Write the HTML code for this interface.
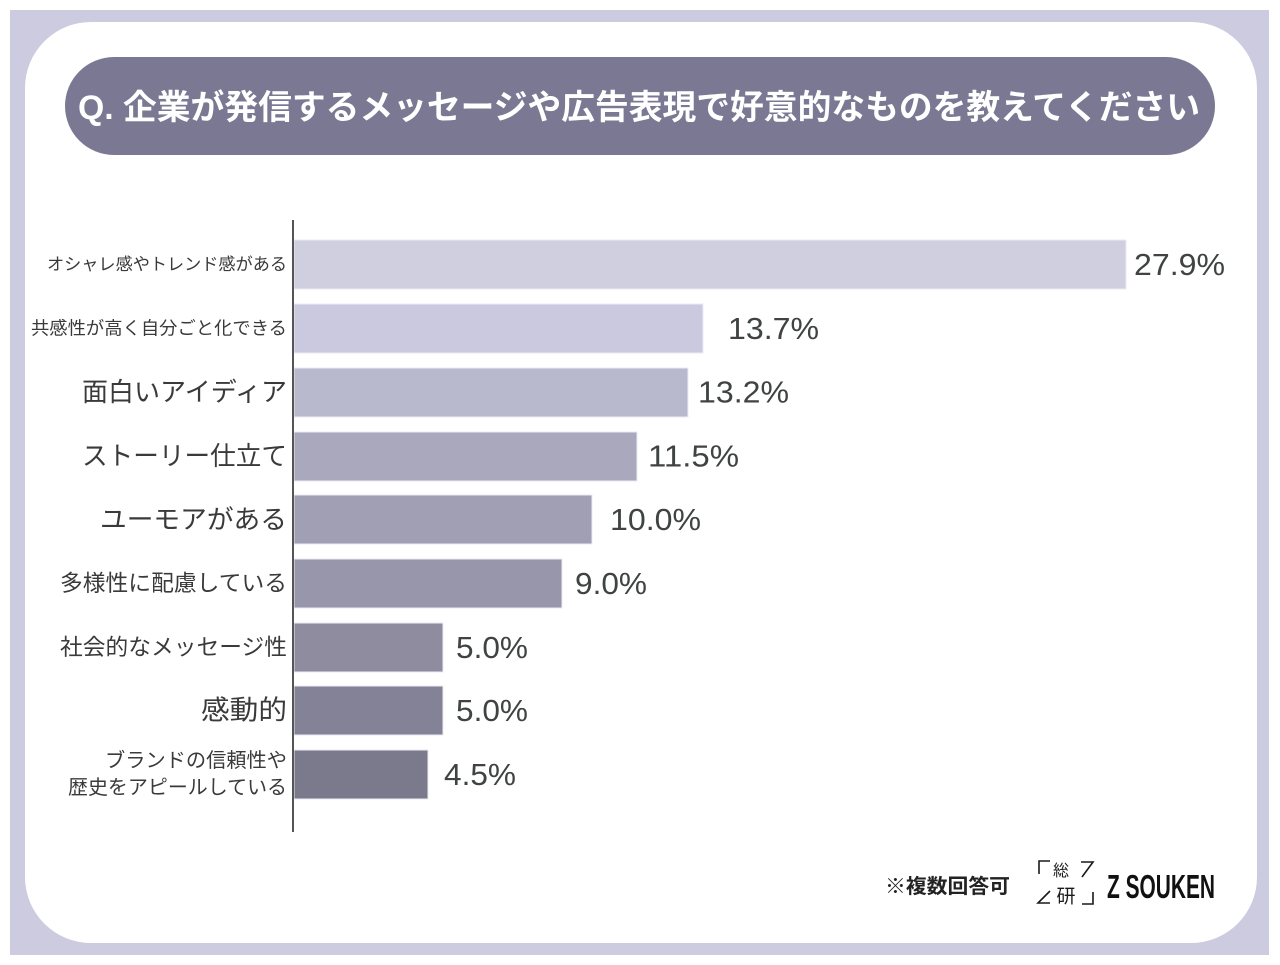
<!DOCTYPE html>
<html>
<head>
<meta charset="utf-8">
<style>
html,body{margin:0;padding:0;background:#fff;}
body{width:1280px;height:965px;overflow:hidden;}
svg{display:block;}
.lbl{font-family:"Liberation Sans","Noto Sans CJK JP",sans-serif;fill:#3a3a3a;}
.val{font-family:"Liberation Sans","Noto Sans CJK JP",sans-serif;fill:#404343;font-size:31px;}
</style>
</head>
<body>
<svg width="1280" height="965" viewBox="0 0 1280 965" xmlns="http://www.w3.org/2000/svg">
  <rect x="0" y="0" width="1280" height="965" fill="#ffffff"/>
  <rect x="10" y="10" width="1259" height="945" fill="#cdcbe0"/>
  <rect x="25" y="22" width="1232" height="921" rx="66" ry="66" fill="#ffffff"/>
  <!-- title pill -->
  <rect x="65" y="57" width="1150" height="98" rx="49" ry="49" fill="#7b7894"/>
  <text x="78" y="108" dominant-baseline="central" font-family="'Liberation Sans','Noto Sans CJK JP',sans-serif" font-weight="bold" font-size="34" fill="#ffffff" textLength="1122" lengthAdjust="spacingAndGlyphs">Q. 企業が発信するメッセージや広告表現で好意的なものを教えてください</text>

  <!-- bars -->
  <g stroke="#eceaf3" stroke-width="1">
    <rect x="294" y="240" width="832" height="49" fill="#d0cfdf"/>
    <rect x="294" y="304" width="409" height="49" fill="#cbc9df"/>
    <rect x="294" y="368" width="394" height="49" fill="#b9b9cd"/>
    <rect x="294" y="432" width="343" height="49" fill="#a9a8bd"/>
    <rect x="294" y="495" width="298" height="49" fill="#a19fb3"/>
    <rect x="294" y="559" width="268" height="49" fill="#9796ab"/>
    <rect x="294" y="623" width="149" height="49" fill="#8f8ca0"/>
    <rect x="294" y="686" width="149" height="49" fill="#848297"/>
    <rect x="294" y="750" width="134" height="49" fill="#7b7a8d"/>
  </g>
  <!-- axis -->
  <rect x="292" y="220" width="2" height="612" fill="#555555"/>

  <!-- category labels -->
  <g class="lbl" text-anchor="end">
    <text x="287" y="264.5" dominant-baseline="central" font-size="17" textLength="240" lengthAdjust="spacingAndGlyphs">オシャレ感やトレンド感がある</text>
    <text x="287" y="328.5" dominant-baseline="central" font-size="18" textLength="256" lengthAdjust="spacingAndGlyphs">共感性が高く自分ごと化できる</text>
    <text x="287" y="392" dominant-baseline="central" font-size="26" textLength="205" lengthAdjust="spacingAndGlyphs">面白いアイディア</text>
    <text x="287" y="456" dominant-baseline="central" font-size="26" textLength="205" lengthAdjust="spacingAndGlyphs">ストーリー仕立て</text>
    <text x="287" y="519.5" dominant-baseline="central" font-size="26" textLength="187" lengthAdjust="spacingAndGlyphs">ユーモアがある</text>
    <text x="287" y="583.5" dominant-baseline="central" font-size="22.5" textLength="227" lengthAdjust="spacingAndGlyphs">多様性に配慮している</text>
    <text x="287" y="647.5" dominant-baseline="central" font-size="22.5" textLength="227" lengthAdjust="spacingAndGlyphs">社会的なメッセージ性</text>
    <text x="287" y="710.5" dominant-baseline="central" font-size="27" textLength="86" lengthAdjust="spacingAndGlyphs">感動的</text>
    <text x="287" y="761" dominant-baseline="central" font-size="20" textLength="182" lengthAdjust="spacingAndGlyphs">ブランドの信頼性や</text>
    <text x="287" y="788" dominant-baseline="central" font-size="20" textLength="219" lengthAdjust="spacingAndGlyphs">歴史をアピールしている</text>
  </g>

  <!-- values -->
  <g class="val">
    <text x="1134" y="264.5" dominant-baseline="central" textLength="91" lengthAdjust="spacingAndGlyphs">27.9%</text>
    <text x="728" y="328.5" dominant-baseline="central" textLength="91" lengthAdjust="spacingAndGlyphs">13.7%</text>
    <text x="698" y="392" dominant-baseline="central" textLength="91" lengthAdjust="spacingAndGlyphs">13.2%</text>
    <text x="648" y="456" dominant-baseline="central" textLength="91" lengthAdjust="spacingAndGlyphs">11.5%</text>
    <text x="610" y="519.5" dominant-baseline="central" textLength="91" lengthAdjust="spacingAndGlyphs">10.0%</text>
    <text x="575" y="583.5" dominant-baseline="central" textLength="72" lengthAdjust="spacingAndGlyphs">9.0%</text>
    <text x="456" y="647.5" dominant-baseline="central" textLength="72" lengthAdjust="spacingAndGlyphs">5.0%</text>
    <text x="456" y="710.5" dominant-baseline="central" textLength="72" lengthAdjust="spacingAndGlyphs">5.0%</text>
    <text x="444" y="774.5" dominant-baseline="central" textLength="72" lengthAdjust="spacingAndGlyphs">4.5%</text>
  </g>

  <!-- footer note -->
  <text x="885" y="887" dominant-baseline="central" font-family="'Liberation Sans','Noto Sans CJK JP',sans-serif" font-weight="bold" font-size="20" fill="#222222" textLength="125" lengthAdjust="spacingAndGlyphs">※複数回答可</text>

  <!-- logo -->
  <g stroke="#1a1a1a" stroke-width="1.6" fill="none">
    <polyline points="1039,874 1039,861 1050,861"/>
    <polyline points="1081,862 1093,862 1082,877"/>
    <polyline points="1050,891 1038,903 1050,903"/>
    <polyline points="1093,892 1093,904 1082,904"/>
  </g>
  <text x="1061" y="869" text-anchor="middle" dominant-baseline="central" font-family="'Noto Sans CJK JP',sans-serif" font-size="16" fill="#1a1a1a">総</text>
  <text x="1066" y="895" text-anchor="middle" dominant-baseline="central" font-family="'Noto Sans CJK JP',sans-serif" font-size="19" fill="#1a1a1a">研</text>
  <text x="1107" y="898" font-family="'Liberation Sans',sans-serif" font-weight="bold" font-size="33" fill="#111111" textLength="108" lengthAdjust="spacingAndGlyphs">Z SOUKEN</text>
</svg>
</body>
</html>
